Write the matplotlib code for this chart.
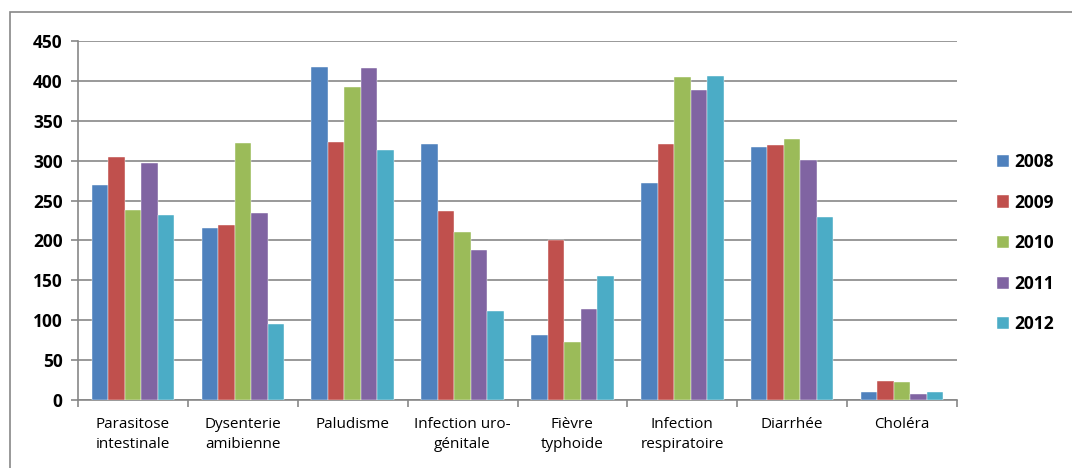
import matplotlib
matplotlib.use("Agg")
import matplotlib.pyplot as plt
import numpy as np
from matplotlib.patches import Rectangle

categories = ["Parasitose\nintestinale", "Dysenterie\namibienne", "Paludisme",
              "Infection uro-\ngénitale", "Fièvre\ntyphoide", "Infection\nrespiratoire",
              "Diarrhée", "Choléra"]
years = ["2008", "2009", "2010", "2011", "2012"]
v2008 = [269, 215, 418, 321, 81, 272, 317, 10]
v2009 = [304, 219, 323, 237, 200, 321, 320, 24]
v2010 = [238, 322, 392, 210, 73, 405, 327, 22]
v2011 = [297, 235, 416, 188, 114, 388, 301, 8]
v2012 = [232, 95, 313, 111, 155, 406, 229, 10]
series = [v2008, v2009, v2010, v2011, v2012]
colors = ["#4F81BD", "#C0504D", "#9BBB59", "#8064A2", "#4BACC6"]
yticks = [0, 50, 100, 150, 200, 250, 300, 350, 400, 450]

plt.rcParams['font.family'] = ['Open Sans', 'DejaVu Sans']

fig = plt.figure(figsize=(10.72, 4.68), dpi=100)
ax = fig.add_axes([78/1072, 1-400/468, (957-78)/1072, (400-41)/468])

x = np.arange(len(categories))
w = 0.15
for i, (vals, c, lab) in enumerate(zip(series, colors, years)):
    ax.bar(x + (i - 2) * w, vals, width=w, color=c, label=lab, zorder=3,
           edgecolor='white', linewidth=0.3)

ax.set_xlim(-0.5, len(categories) - 0.5)
ax.set_ylim(0, 450)
ax.set_yticks(yticks)
ax.set_yticklabels([str(t) for t in yticks], fontsize=12.5, fontweight='bold')
ax.yaxis.grid(True, color='#878787', linewidth=1.2, zorder=0)
ax.set_axisbelow(True)

ax.set_xticks(x)
ax.set_xticklabels(categories, fontsize=11, linespacing=1.5)
ax.tick_params(axis='x', which='major', length=0, pad=12)
ax.set_xticks(np.arange(-0.5, len(categories)), minor=True)
ax.tick_params(axis='x', which='minor', length=5, color='#878787', width=1.2)
ax.tick_params(axis='y', length=5, color='#878787', width=1.2, pad=6)

for s in ['top', 'right']:
    ax.spines[s].set_visible(False)
for s in ['left', 'bottom']:
    ax.spines[s].set_color('#878787')
    ax.spines[s].set_linewidth(1.2)

fig.legend(loc='upper left', bbox_to_anchor=(990/1072, 1-146/468), frameon=False,
           prop={'weight': 'bold', 'size': 12.5}, handlelength=0.7, handleheight=0.7,
           handletextpad=0.3, labelspacing=1.3, borderaxespad=0)

fig.patches.append(Rectangle((10/1072, -0.05), 1.2, 1 - 12/468 + 0.05,
                             transform=fig.transFigure, fill=False,
                             edgecolor='#878787', linewidth=1.2))

fig.savefig("out.png", dpi=100)
